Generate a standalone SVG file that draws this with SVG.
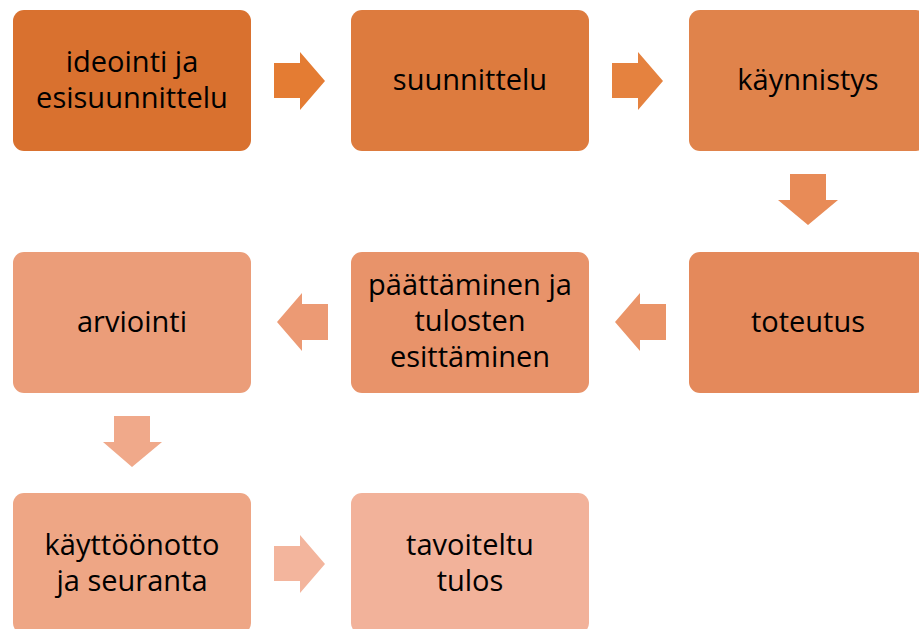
<svg xmlns="http://www.w3.org/2000/svg" width="919" height="629" viewBox="0 0 919 629">
<style>
  .box { stroke: none; }
  .lbl { font-family: "Open Sans", "Liberation Sans", sans-serif; font-size: 29px; fill: #000; text-anchor: middle; }
</style>
<rect width="919" height="629" fill="#fff"/>
<g id="connectors">
  <path d="M274,63 H300 V52 L325,81 L300,110 V98 H274 Z" fill="#E47C33"/>
  <path d="M612,63 H638 V52 L663,81 L638,110 V98 H612 Z" fill="#E5823F"/>
  <path d="M790,174 V200 H778 L808,225 L838,200 H826 V174 Z" fill="#E88B57"/>
  <path d="M666,304 H640 V293 L615,322 L640,351 V340 H666 Z" fill="#EA9468"/>
  <path d="M328,304 H302 V293 L277,322 L302,351 V340 H328 Z" fill="#EC9A74"/>
  <path d="M114,416 V442 H103 L132,467 L162,442 H150 V416 Z" fill="#F0A98A"/>
  <path d="M274,546 H300 V535 L325,564 L300,593 V581 H274 Z" fill="#F3B59D"/>
</g>
<g id="n1">
  <rect class="box" x="13" y="10" width="238" height="141" rx="11" fill="#D9712F"/>
  <text class="lbl" x="132" y="71.5">ideointi ja</text>
  <text class="lbl" x="132" y="107.5">esisuunnittelu</text>
</g>
<g id="n2">
  <rect class="box" x="351" y="10" width="238" height="141" rx="11" fill="#DD7B3E"/>
  <text class="lbl" x="470" y="90">suunnittelu</text>
</g>
<g id="n3">
  <rect class="box" x="689" y="10" width="238" height="141" rx="11" fill="#E0834B"/>
  <text class="lbl" x="808" y="90">käynnistys</text>
</g>
<g id="n4">
  <rect class="box" x="689" y="252" width="238" height="141" rx="11" fill="#E4895B"/>
  <text class="lbl" x="808" y="332">toteutus</text>
</g>
<g id="n5">
  <rect class="box" x="351" y="252" width="238" height="141" rx="11" fill="#E8936A"/>
  <text class="lbl" x="470" y="295">päättäminen ja</text>
  <text class="lbl" x="470" y="331">tulosten</text>
  <text class="lbl" x="470" y="367">esittäminen</text>
</g>
<g id="n6">
  <rect class="box" x="13" y="252" width="238" height="141" rx="11" fill="#EB9D79"/>
  <text class="lbl" x="132" y="332">arviointi</text>
</g>
<g id="n7">
  <rect class="box" x="13" y="493" width="238" height="141" rx="11" fill="#EEA685"/>
  <text class="lbl" x="132" y="554.5">käyttöönotto</text>
  <text class="lbl" x="132" y="590.5">ja seuranta</text>
</g>
<g id="n8">
  <rect class="box" x="351" y="493" width="238" height="141" rx="11" fill="#F2B29A"/>
  <text class="lbl" x="470" y="554.5">tavoiteltu</text>
  <text class="lbl" x="470" y="590.5">tulos</text>
</g>
</svg>
